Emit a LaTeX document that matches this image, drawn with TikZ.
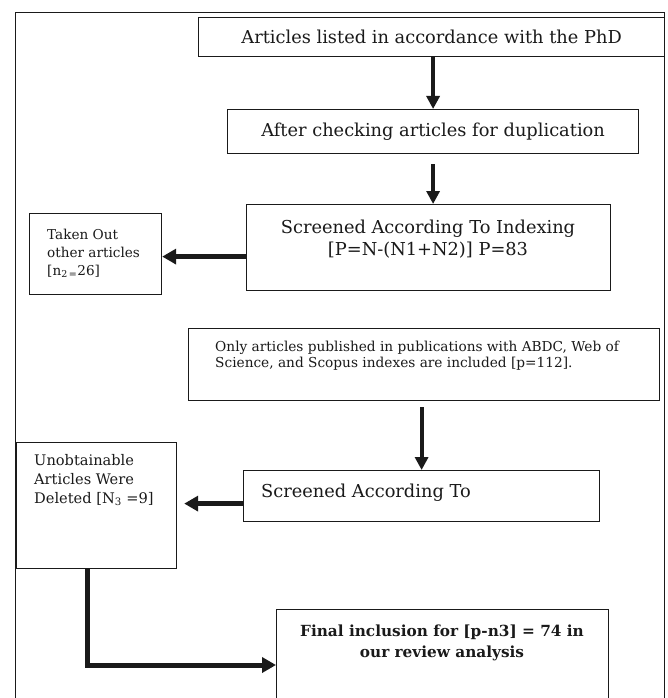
\documentclass[tikz,border=0pt]{standalone}
\usepackage{fontspec}
\setmainfont{DejaVu Serif}
\usetikzlibrary{arrows.meta}
\definecolor{ink}{HTML}{1A1A1A}
\begin{document}
\begin{tikzpicture}[x=1pt,y=-1pt,line join=miter,
  boxst/.style={draw=ink,line width=1.2pt,rectangle,inner sep=0pt,anchor=north west},
  txt/.style={text=ink,inner sep=0pt},
  fat/.style={draw=ink,line width=4pt,-{Triangle[length=13pt,width=13pt]}},
  fatl/.style={draw=ink,line width=5pt,-{Triangle[length=14pt,width=15pt]}},
  big/.style={font=\fontsize{17.8}{22}\selectfont},
  small/.style={font=\fontsize{13.6}{18}\selectfont}]
\useasboundingbox (0,0) rectangle (667,698);
\clip (0,0) rectangle (667,698);
\fill[white] (0,0) rectangle (667,698);
% outer frame (runs past the lower edge)
\draw[ink,line width=1pt] (15,720) -- (15,13) -- (664,13) -- (664,720);

% boxes
\node[boxst,big,text=ink,minimum width=466pt,minimum height=39pt] (b1) at (198,17)
  {Articles listed in accordance with the PhD};
\node[boxst,big,text=ink,minimum width=411pt,minimum height=44pt] (b2) at (227,109)
  {After checking articles for duplication};
\node[boxst,minimum width=364pt,minimum height=86pt] (b3) at (246,204) {};
\node[boxst,minimum width=132pt,minimum height=81pt] (tk) at (29,213) {};
\node[boxst,minimum width=471pt,minimum height=72pt] (b4) at (188,328) {};
\node[boxst,minimum width=356pt,minimum height=51pt] (b5) at (243,470) {};
\node[boxst,minimum width=160pt,minimum height=126pt] (ub) at (16,442) {};
\node[boxst,minimum width=332pt,minimum height=120pt] (b6) at (276,609) {};

% texts
\node[txt,big,align=center] (t3) at (428,239)
  {Screened According To Indexing\\{}[P=N-(N1+N2)] P=83};
\node[txt,small,anchor=west,align=left] (t4) at (47,253)
  {Taken Out\\other articles\\{}[n\textsubscript{2\,=}26]};
\node[txt,font=\fontsize{13.7}{16}\selectfont,anchor=west,align=left] (t5) at (215,355.5)
  {Only articles published in publications with ABDC, Web of\\Science, and Scopus indexes are included [p=112].};
\node[txt,big,anchor=west] (t6) at (261,493) {Screened According To};
\node[txt,font=\fontsize{14.6}{19}\selectfont,anchor=west,align=left] (t7) at (34,480)
  {Unobtainable\\Articles Were\\Deleted [N\textsubscript{3} =9]};
\node[txt,font=\bfseries\fontsize{15.3}{21}\selectfont,align=center] (t8) at (442,642.5)
  {Final inclusion for [p-n3] = 74 in\\our review analysis};

% connectors
\draw[fat] (b1.south -| b2.north) -- (b2.north);
\draw[fat] ([yshift=-10pt]b2.south) -- (b2.south |- b3.north);
\draw[fatl] ([yshift=-9pt]b3.west) -- ([yshift=-9pt]b3.west -| tk.east);
\draw[fat] ([yshift=-6pt]b4.south -| b5.north) -- (b5.north);
\draw[fatl,shorten >=7pt] ([yshift=-7.5pt]b5.west) -- ([yshift=-7.5pt]b5.west -| ub.east);
\coordinate (bend) at (87,665);
\draw[fatl] (ub.south -| bend) -- (bend) -- (bend -| b6.west);
\end{tikzpicture}
\end{document}
